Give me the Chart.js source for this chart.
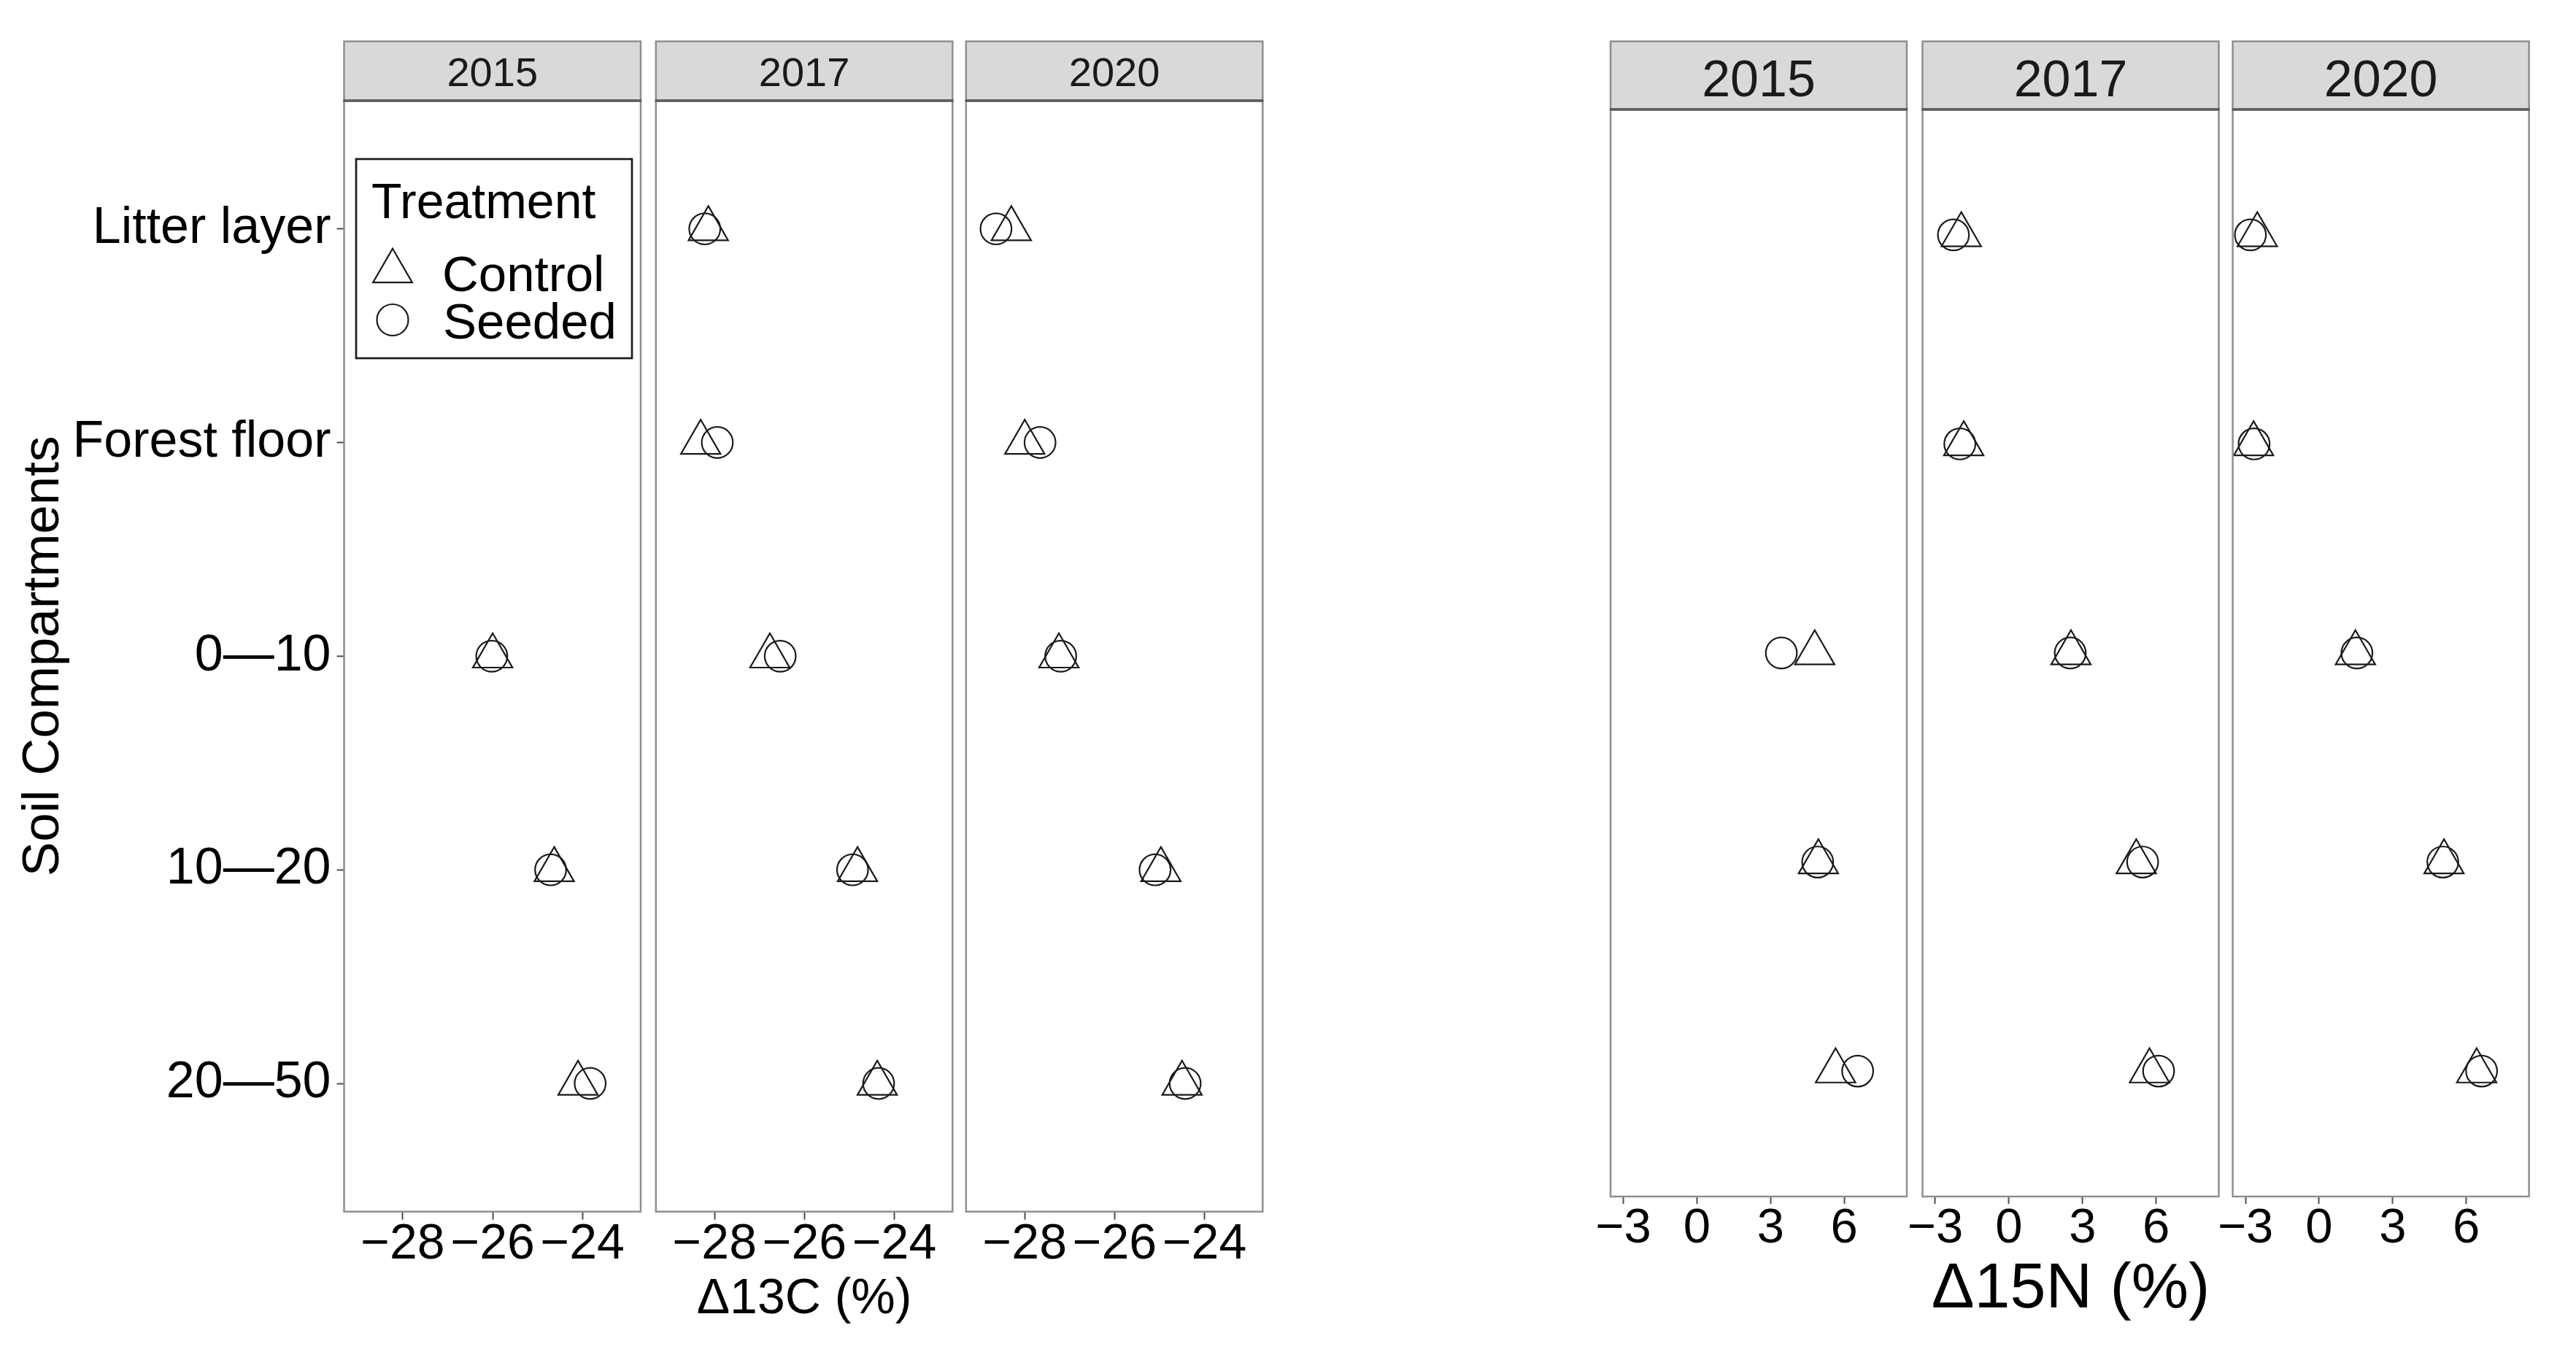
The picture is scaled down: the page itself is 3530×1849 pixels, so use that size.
<!DOCTYPE html>
<html>
<head>
<meta charset="utf-8">
<script src="https://cdn.jsdelivr.net/npm/chart.js@4.4.1/dist/chart.umd.min.js"></script>
<style>
html,body{margin:0;padding:0;background:#ffffff;width:3530px;height:1849px;overflow:hidden;position:relative;}
canvas{position:absolute;top:0;}
</style>
</head>
<body>
<script>
// ---------------- data ----------------
const compartments = ['Litter layer', 'Forest floor', '0—10', '10—20', '20—50'];
const years = ['2015', '2017', '2020'];
const treatments = ['Control', 'Seeded'];
const c13TickValues = [-28, -26, -24];
const n15TickValues = [-3, 0, 3, 6];

// Δ13C (%) by compartment (order of `compartments`)
const c13Control2015 = [null, null, -26.00, -24.63, -24.10];
const c13Seeded2015  = [null, null, -26.02, -24.71, -23.83];
const c13Control2017 = [-28.14, -28.31, -26.77, -24.82, -24.38];
const c13Seeded2017  = [-28.22, -27.94, -26.54, -24.93, -24.35];
const c13Control2020 = [-28.30, -28.00, -27.24, -24.97, -24.50];
const c13Seeded2020  = [-28.64, -27.66, -27.20, -25.10, -24.43];

// Δ15N (%) by compartment
const n15Control2015 = [null, null, 4.80, 4.95, 5.65];
const n15Seeded2015  = [null, null, 3.44, 4.92, 6.55];
const n15Control2017 = [-1.94, -1.84, 2.53, 5.19, 5.73];
const n15Seeded2017  = [-2.26, -2.00, 2.50, 5.45, 6.10];
const n15Control2020 = [-2.52, -2.67, 1.48, 5.09, 6.42];
const n15Seeded2020  = [-2.80, -2.65, 1.54, 5.04, 6.62];

// ---------------- layout / style ----------------
const FONT = "'Liberation Sans', Arial, Helvetica, sans-serif";
const H = 1849;
const BORDER = '#8f8f8f';

function fmtNum(v) { return v < 0 ? '\u2212' + Math.abs(v) : String(v); }
function toPoints(arr) {
  const out = [];
  arr.forEach((v, i) => { if (v !== null) out.push({x: v, y: i}); });
  return out;
}

const groups = [
  { lefts: [471.5, 898.8, 1323.8], pw: 406.5, top: 138, bottom: 1660.7,
    stripTop: 56.7, stripFont: 56, stripBase: 118,
    xmin: -29.307, xmax: -22.705, ticks: c13TickValues, tickFont: 68, tickPad: 0.6, tickLen: 11,
    title: 'Δ13C (%)', titleFont: 68, titlePad: 26.6,
    ctrl: [c13Control2015, c13Control2017, c13Control2020],
    seed: [c13Seeded2015, c13Seeded2017, c13Seeded2020], yLabels: true },
  { lefts: [2207, 2634.5, 3059.6], pw: 406, top: 150, bottom: 1640,
    stripTop: 56.7, stripFont: 70, stripBase: 131.7,
    xmin: -3.52, xmax: 8.553, ticks: n15TickValues, tickFont: 67, tickPad: 1.3, tickLen: 10,
    title: 'Δ15N (%)', titleFont: 88, titlePad: 28.5,
    ctrl: [n15Control2015, n15Control2017, n15Control2020],
    seed: [n15Seeded2015, n15Seeded2017, n15Seeded2020], yLabels: false }
];

function legendPlugin() {
  return {
    id: 'treatLegend',
    afterDraw(chart) {
      const ctx = chart.ctx;
      ctx.save();
      ctx.fillStyle = '#ffffff';
      ctx.fillRect(488, 218, 378, 273);
      ctx.strokeStyle = '#1a1a1a';
      ctx.lineWidth = 2.7;
      ctx.strokeRect(488, 218, 378, 273);
      ctx.fillStyle = '#000';
      ctx.textAlign = 'left';
      ctx.textBaseline = 'alphabetic';
      ctx.font = '68px ' + FONT;
      ctx.fillText('Treatment', 509, 299);
      ctx.font = '69px ' + FONT;
      ctx.fillText(treatments[0], 606, 399);
      ctx.fillText(treatments[1], 607, 464);
      ctx.strokeStyle = '#1a1a1a';
      ctx.lineWidth = 2.2;
      const r = 31, cx = 538, cy = 371.7;
      ctx.beginPath();
      for (let k = 0; k < 3; k++) {
        const a = k * 2 * Math.PI / 3;
        const px = cx + Math.sin(a) * r, py = cy - Math.cos(a) * r;
        if (k === 0) ctx.moveTo(px, py); else ctx.lineTo(px, py);
      }
      ctx.closePath();
      ctx.stroke();
      ctx.beginPath();
      ctx.arc(538, 438.5, 21.5, 0, Math.PI * 2);
      ctx.stroke();
      ctx.restore();
    }
  };
}

function makePanel(g, gi, pi) {
  const L = g.lefts[pi];
  const isFirstLeft = g.yLabels && pi === 0;
  const cl = isFirstLeft ? 0 : Math.round(L) - 60;
  const M = L - cl;
  const cw = Math.round(M + g.pw + 40);
  const R = cw - M - g.pw;
  const cv = document.createElement('canvas');
  cv.width = cw; cv.height = H;
  cv.style.left = cl + 'px';
  cv.style.width = cw + 'px';
  cv.style.height = H + 'px';
  document.body.appendChild(cv);

  const strip = {
    id: 'strip',
    beforeDraw(chart) {
      const a = chart.chartArea, ctx = chart.ctx;
      ctx.save();
      ctx.fillStyle = '#d9d9d9';
      ctx.fillRect(a.left, g.stripTop, a.right - a.left, a.top - g.stripTop);
      ctx.strokeStyle = BORDER;
      ctx.lineWidth = 2.5;
      ctx.strokeRect(a.left, g.stripTop, a.right - a.left, a.top - g.stripTop);
      ctx.fillStyle = '#1a1a1a';
      ctx.font = g.stripFont + 'px ' + FONT;
      ctx.textAlign = 'center';
      ctx.textBaseline = 'alphabetic';
      ctx.fillText(years[pi], (a.left + a.right) / 2, g.stripBase);
      ctx.restore();
    },
    afterDatasetsDraw(chart) {
      const a = chart.chartArea, ctx = chart.ctx;
      ctx.save();
      ctx.strokeStyle = BORDER;
      ctx.lineWidth = 2.5;
      ctx.strokeRect(a.left, a.top, a.right - a.left, a.bottom - a.top);
      ctx.strokeStyle = '#5a5a5a';
      ctx.lineWidth = 3.5;
      ctx.beginPath();
      ctx.moveTo(a.left - 1, a.top);
      ctx.lineTo(a.right + 1, a.top);
      ctx.stroke();
      ctx.restore();
    }
  };

  const plugins = [strip];
  if (isFirstLeft) plugins.push(legendPlugin());

  new Chart(cv, {
    type: 'scatter',
    data: {
      datasets: [
        { label: treatments[0], data: toPoints(g.ctrl[pi]), pointStyle: 'triangle',
          pointRadius: 31.3, pointHoverRadius: 31.3, pointBorderWidth: 2.2, pointHoverBorderWidth: 2.2,
          pointBorderColor: '#1a1a1a', pointBackgroundColor: 'rgba(0,0,0,0)', showLine: false },
        { label: treatments[1], data: toPoints(g.seed[pi]), pointStyle: 'circle',
          pointRadius: 21.3, pointHoverRadius: 21.3, pointBorderWidth: 2.2, pointHoverBorderWidth: 2.2,
          pointBorderColor: '#1a1a1a', pointBackgroundColor: 'rgba(0,0,0,0)', showLine: false }
      ]
    },
    plugins: plugins,
    options: {
      responsive: false,
      maintainAspectRatio: false,
      devicePixelRatio: 1,
      animation: false,
      events: [],
      layout: { padding: { left: 0, right: R, top: g.top, bottom: 0 } },
      plugins: { legend: { display: false }, tooltip: { enabled: false }, title: { display: false } },
      scales: {
        x: {
          type: 'linear', position: 'bottom', min: g.xmin, max: g.xmax,
          afterBuildTicks: (s) => { s.ticks = g.ticks.map(v => ({ value: v })); },
          afterFit: (s) => { s.height = H - g.bottom; },
          ticks: { autoSkip: false, maxRotation: 0, minRotation: 0, padding: g.tickPad, color: '#000',
                   font: { family: FONT, size: g.tickFont, lineHeight: 1 },
                   callback: (v) => fmtNum(v) },
          grid: { display: true, drawOnChartArea: false, drawTicks: true, tickLength: g.tickLen,
                  tickWidth: 2, tickColor: '#4d4d4d', color: '#4d4d4d' },
          border: { display: false },
          title: { display: pi === 1, text: g.title, color: '#000',
                   font: { family: FONT, size: g.titleFont },
                   padding: { top: 0, bottom: g.titlePad } }
        },
        y: {
          type: 'linear', position: 'left', min: -0.6, max: 4.6, reverse: true,
          display: true,
          afterBuildTicks: (s) => { s.ticks = compartments.map((c, i) => ({ value: i })); },
          afterFit: (s) => { s.width = M; },
          ticks: { display: isFirstLeft, autoSkip: false, padding: 8, color: '#000',
                   font: { family: FONT, size: 70, lineHeight: 1 },
                   callback: (v) => compartments[v] },
          grid: { display: isFirstLeft, drawOnChartArea: false, drawTicks: true, tickLength: 10,
                  tickWidth: 2, tickColor: '#4d4d4d', color: '#4d4d4d' },
          border: { display: false },
          title: { display: isFirstLeft, text: 'Soil Compartments', color: '#000',
                   font: { family: FONT, size: 71 },
                   padding: { top: 17.8, bottom: 0 } }
        }
      }
    }
  });
}

groups.forEach((g, gi) => { [0, 1, 2].forEach(pi => makePanel(g, gi, pi)); });
</script>
</body>
</html>
